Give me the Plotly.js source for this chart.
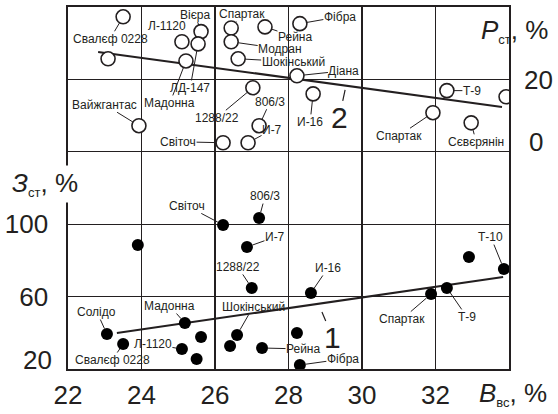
<!DOCTYPE html>
<html><head><meta charset="utf-8">
<script src="https://cdn.plot.ly/plotly-3.0.1.min.js"></script>
<style>html,body{margin:0;padding:0;background:#fff}</style>
</head><body><div id="chart" style="width:558px;height:414px"></div>
<script>
// ---- Lower group (filled, left axis: З_ст, %) ----
const lowerNames = ['Солідо','Свалєф 0228','','Мадонна','Л-1120','','','Світоч','Шокінський','','Рейна','806/3','И-7','1288/22','','Фібра','И-16','Спартак','Т-9','','Т-10'];
const lowerX = [23.06,23.5,23.9,25.18,25.1,25.62,25.5,26.22,26.6,26.41,27.28,27.2,26.87,27.0,28.23,28.31,28.61,31.88,32.31,32.91,33.86];
const lowerZ = [39.3,33.8,88.5,45.4,31,37.7,25.5,99.6,38.8,32.7,31.6,103.4,87.4,64.8,39.9,22.2,62,61.4,64.8,81.9,75.2];
// ---- Upper group (open, right axis: P_ст, %) ----
const upperNames = ['Свалєф 0228','','Л-1120','Вієра','ЛД-147','Мадонна','Вайжгантас','1288/22','806/3','Світоч','И-7','Спартак','Модран','Рейна','Шокінський','Фібра','Діана','И-16','Спартак','Т-9','','Сєвєрянін'];
const upperX = [23.5,23.09,25.1,25.62,25.54,25.21,23.93,27.03,27.2,26.22,26.9,26.44,26.44,27.36,26.63,28.31,28.23,28.67,31.93,32.31,33.92,32.97];
const upperP = [37.3,25.7,30.4,33.2,29.8,25.1,7.2,17.7,7.2,2.5,2.5,34.2,30.4,34.5,25.7,35.4,21,16,10.8,16.9,15.2,8];
// ---- Trend lines ----
const line1X = [23.33,33.84], line1Z = [39.9,70.8];
const line2X = [22.82,33.81], line2P = [27.6,12.4];
// ---- Axis ticks ----
const xTickVals = [22,24,26,28,30,32,34];
const xTickText = ['22','24','26','28','30','32',' '];
const zTickVals = [20,60,100,140,180,220];
const zTickText = [' ','60','100',' ',' ',' '];
const pTickVals = [-60,-40,-20,0,20,40];
const pTickText = [' ',' ',' ',' ','20',' '];

// label offsets in pixels [ax, ay, arrow]
const lowerOff = [[-10,-22,1],[-11,16,1],null,[-15,-17,1],[-29,-5,1],null,null,[-36,-19,1],[16,-28,1],null,[41,1,1],[6,-22,1],[28,-10,1],[-14,-21,1],null,[43,-6,1],[17,-25,1],[-29,25,1],[20,29,1],null,[-13,-32,1]];
const upperOff = [[-13,22,1],null,[-15,-16,0],[-6,-17,1],[-8,44,1],[-16,42,1],[-34,-21,1],[-36,30,1],[11,-24,1],[-45,-1,1],[24,-13,1],[11,-14,1],[49,7,1],[30,10,1],[55,3,1],[40,-7,1],[47,-5,1],[-3,28,1],[-34,23,1],[25,0,1],null,[5,19,1]];

const FONT = 'Liberation Sans, Arial, sans-serif';
const lblFont = {family: FONT, size: 12, color: '#231f20'};

const traces = [
  {x: line1X, y: line1Z, mode: 'lines', line: {color: '#231f20', width: 2}, yaxis: 'y', hoverinfo: 'skip'},
  {x: line2X, y: line2P, mode: 'lines', line: {color: '#231f20', width: 2}, yaxis: 'y2', hoverinfo: 'skip'},
  {x: lowerX, y: lowerZ, mode: 'markers', yaxis: 'y', marker: {symbol: 'circle', size: 12, color: '#000'}},
  {x: upperX, y: upperP, mode: 'markers', yaxis: 'y2', marker: {symbol: 'circle', size: 14, color: '#fff', line: {color: '#231f20', width: 1.6}}}
];

const ann = [];
function addLabels(names, xs, ys, offs, yref, so) {
  names.forEach((n, i) => {
    if (!n || !offs[i]) return;
    const o = offs[i];
    ann.push({x: xs[i], y: ys[i], xref: 'x', yref: yref, text: n, font: lblFont,
      showarrow: !!o[2], arrowhead: 0, arrowwidth: 1, arrowcolor: '#231f20',
      ax: o[0], ay: o[1], standoff: so, borderpad: 0,
      xshift: o[2] ? 0 : o[0], yshift: o[2] ? 0 : -o[1]});
  });
}
addLabels(lowerNames, lowerX, lowerZ, lowerOff, 'y', 6);
addLabels(upperNames, upperX, upperP, upperOff, 'y2', 7);

// line numbers
ann.push({x: 28.91, y: 51.5, xref: 'x', yref: 'y', text: '1', font: {family: FONT, size: 30, color: '#231f20'},
  showarrow: true, arrowhead: 0, arrowwidth: 1.2, arrowcolor: '#231f20', ax: 11, ay: 26, standoff: 0, borderpad: 0});
ann.push({x: 29.54, y: 17.1, xref: 'x', yref: 'y2', text: '2', font: {family: FONT, size: 30, color: '#231f20'},
  showarrow: true, arrowhead: 0, arrowwidth: 1.2, arrowcolor: '#231f20', ax: -6, ay: 28, standoff: 0, borderpad: 0});

const tickFont = {family: FONT, size: 26, color: '#231f20'};
// lifted end tick labels
ann.push({x: 0, xref: 'paper', y: 20, yref: 'y', text: '20', font: tickFont, showarrow: false, xanchor: 'right', xshift: -14, yshift: 9});
ann.push({x: 1, xref: 'paper', y: 0, yref: 'y2', text: '0', font: tickFont, showarrow: false, xanchor: 'left', xshift: 18, yshift: 10});

// axis titles
const titleFont = {family: FONT, size: 26, color: '#231f20'};
const sub = s => '<sub><span style="font-size:13px">' + s + '</span></sub>';
ann.push({x: -0.052, y: 0.512, xref: 'paper', yref: 'paper', xanchor: 'center', yanchor: 'middle',
  text: '<i>З</i>' + sub('ст') + ', %', font: titleFont, showarrow: false, bgcolor: '#fff', borderpad: 2});
ann.push({x: 1.012, y: 0.935, xref: 'paper', yref: 'paper', xanchor: 'center', yanchor: 'middle',
  text: '<i>P</i>' + sub('ст') + ', %', font: titleFont, showarrow: false});
ann.push({x: 1.008, y: -0.068, xref: 'paper', yref: 'paper', xanchor: 'center', yanchor: 'middle',
  text: '<i>B</i>' + sub('вс') + ', %', font: titleFont, showarrow: false});

const layout = {
  width: 558, height: 414,
  margin: {l: 68, r: 49, t: 7, b: 45},
  paper_bgcolor: '#fff', plot_bgcolor: '#fff',
  showlegend: false,
  xaxis: {range: [22, 34], tickvals: xTickVals, ticktext: xTickText, showgrid: true, gridcolor: '#231f20', gridwidth: 1.3,
    showline: true, linecolor: '#231f20', linewidth: 1.6, mirror: true, zeroline: false, tickfont: tickFont, ticks: '', ticklabelstandoff: 2},
  yaxis: {range: [20, 220], tickvals: zTickVals, ticktext: zTickText, showgrid: true, gridcolor: '#231f20', gridwidth: 1.3,
    showline: true, linecolor: '#231f20', linewidth: 1.6, mirror: true, zeroline: false, tickfont: tickFont, ticks: '', ticklabelstandoff: 13},
  yaxis2: {range: [-60, 40], overlaying: 'y', side: 'right', tickvals: pTickVals, ticktext: pTickText, showgrid: false,
    showline: false, zeroline: false, tickfont: tickFont, ticks: '', ticklabelstandoff: 14},
  annotations: ann
};

Plotly.newPlot('chart', traces, layout, {displayModeBar: false, staticPlot: true});
</script></body></html>
